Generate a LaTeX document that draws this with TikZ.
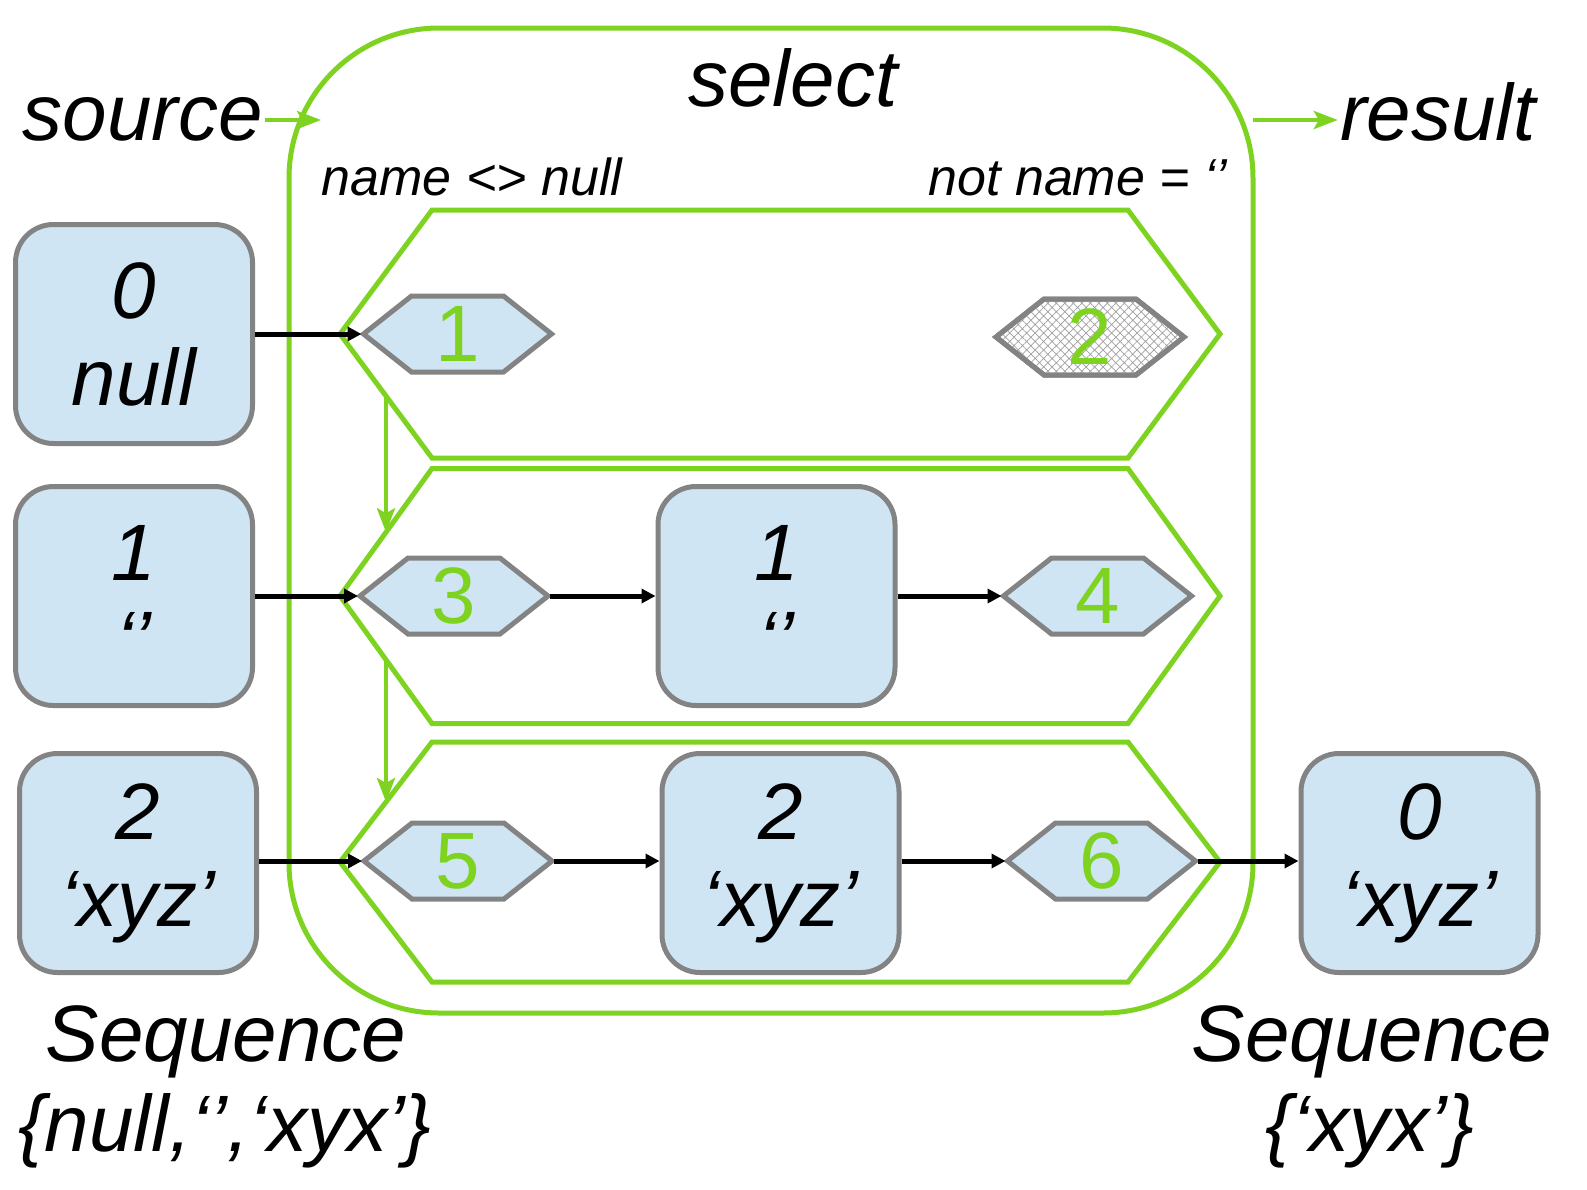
\documentclass[tikz,border=0pt]{standalone}
\usepackage{fontspec}
\setmainfont{Liberation Sans}
\usetikzlibrary{arrows.meta,patterns.meta,calc}
\definecolor{lgreen}{HTML}{7ED321}
\definecolor{lblue}{HTML}{CFE5F3}
\definecolor{bgray}{HTML}{838383}
\definecolor{meshgray}{HTML}{A0A0A0}
\newcommand\bigfont{\fontsize{40}{43.5}\selectfont\itshape}
\newcommand\condfont{\fontsize{26}{30}\selectfont\itshape}
\newcommand\hexfont{\fontsize{40}{44}\selectfont}
\newcommand\smallhex[5]{%
  \path[hexsty,#5] (#2-94,#3) -- (#2-46,#3-38) -- (#2+46,#3-38) -- (#2+94,#3) -- (#2+46,#3+38) -- (#2-46,#3+38) -- cycle;
  \coordinate (#1w) at (#2-96,#3);
  \coordinate (#1e) at (#2+96,#3);
  \node[hexnum] (#1) at (#2,#3) {#4};}
\newcommand\bighex[3]{%
  \draw[bighexsty] (340,#2) -- (432,#2-#3) -- (1128,#2-#3) -- (1220,#2) -- (1128,#2+#3) -- (432,#2+#3) -- cycle;
  \coordinate (#1w) at (340,#2);
  \coordinate (#1ul) at (432,#2-#3);
  \coordinate (#1ll) at (432,#2+#3);
  \coordinate (#1e) at (1220,#2);}
\begin{document}
\begin{tikzpicture}[x=0.5pt,y=-0.5pt,
  txt/.style={inner sep=1pt,anchor=base,font=\bigfont},
  cond/.style={inner sep=1pt,anchor=base,font=\condfont},
  valbox/.style={draw=bgray,line width=2.5pt,fill=lblue,rounded corners=19pt,
    minimum width=118.5pt,minimum height=109.5pt,align=center,font=\bigfont,inner sep=0pt},
  hexsty/.style={draw=bgray,line width=2.5pt,fill=lblue,line join=miter},
  hexnum/.style={inner sep=0pt,font=\hexfont,text=lgreen},
  bighexsty/.style={draw=lgreen,line width=2.5pt,line join=miter},
  barrow/.style={draw=black,line width=2.5pt,-{Triangle[length=7pt,width=7pt]}},
  garrow/.style={draw=lgreen,line width=2pt,-{Stealth[length=12pt,width=9pt,inset=2.5pt]}}]
\useasboundingbox (0,0) rectangle (1587,1190);
% select container
\node[draw=lgreen,line width=2.5pt,rounded corners=75pt,minimum width=482pt,minimum height=492.5pt,inner sep=0pt] (sel) at (771,520.5) {};
\node[txt] (sellab) at (793,106) {select};
\node[txt] (src) at (143,140) {source};
\node[txt] (res) at (1438,140) {result};
\coordinate (srcin) at (321,120);
\coordinate (resout) at (1253,120);
\draw[garrow] (src.east |- srcin) -- (srcin);
\draw[garrow] (resout) -- (resout -| res.west);
\node[cond] (c1) at (472,195) {name <> null};
\node[cond] (c2) at (1078,195) {not name = ‘’};
% big hexagons
\bighex{b1}{334}{124}
\bighex{b2}{596}{127.5}
\bighex{b3}{862}{120}
% value boxes
\node[valbox] (v0) at (134,334) {0\\null};
\node[valbox] (v1) at (134,596) {1\\‘’};
\node[valbox] (v2) at (138,863) {2\\‘xyz’};
\node[valbox] (m1) at (776.5,596) {1\\‘’};
\node[valbox] (m2) at (780.5,863) {2\\‘xyz’};
\node[valbox] (r0) at (1419.5,863) {0\\‘xyz’};
% small hexagons
\smallhex{h1}{457.5}{334}{1}{}
\smallhex{h2}{1090}{337}{2}{fill=white,postaction={pattern={Hatch[angle=45,distance=3pt,line width=0.35pt]},pattern color=meshgray},postaction={draw=bgray,line width=2.5pt}}
\smallhex{h3}{454}{596}{3}{}
\smallhex{h4}{1097.5}{596}{4}{}
\smallhex{h5}{458}{861}{5}{}
\smallhex{h6}{1101.5}{861}{6}{}
% green flow arrows
\draw[garrow] ($(b1w)!0.5!(b1ll)$) -- ($(b2w)!0.5!(b2ul)$);
\draw[garrow] ($(b2w)!0.5!(b2ll)$) -- ($(b3w)!0.5!(b3ul)$);
% black arrows
\draw[barrow] (v0.east) -- (h1w);
\draw[barrow] (v1.east) -- (h3w);
\draw[barrow] (h3e) -- (m1.west);
\draw[barrow] (m1.east) -- (h4w);
\draw[barrow] (v2.east |- h5w) -- (h5w);
\draw[barrow] (h5e) -- (h5e -| m2.west);
\draw[barrow] (m2.east |- h6w) -- (h6w);
\draw[barrow] (h6e) -- (h6e -| r0.west);
% sequence labels
\node[txt] (seqL) at (226,1061) {Sequence};
\node[txt] (lstL) at (225,1151) {\{null,‘’,‘xyx’\}};
\node[txt] (seqR) at (1372,1061) {Sequence};
\node[txt] (lstR) at (1370,1151) {\{‘xyx’\}};
\end{tikzpicture}
\end{document}
